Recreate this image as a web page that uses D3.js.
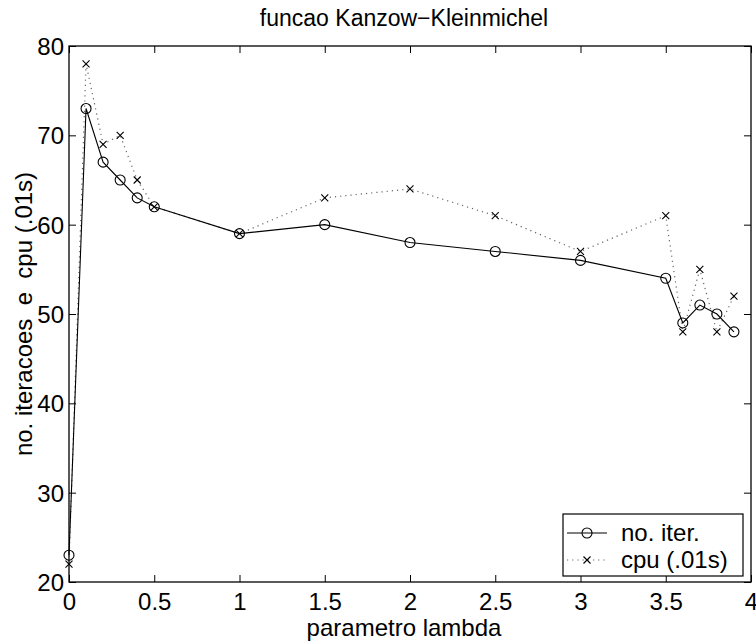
<!DOCTYPE html>
<html><head><meta charset="utf-8">
<script src="https://cdn.jsdelivr.net/npm/d3@7/dist/d3.min.js"></script>
<style>body{margin:0;background:#fff}svg{display:block}text{font-family:"Liberation Sans",Arial,sans-serif;fill:#000}</style>
</head><body><svg id="c" width="756" height="644"></svg>
<script>
const lambda = [0, 0.1, 0.2, 0.3, 0.4, 0.5, 1, 1.5, 2, 2.5, 3, 3.5, 3.6, 3.7, 3.8, 3.9];
const iterations = [23, 73, 67, 65, 63, 62, 59, 60, 58, 57, 56, 54, 49, 51, 50, 48];
const cpu = [22, 78, 69, 70, 65, 62, 59, 63, 64, 61, 57, 61, 48, 55, 48, 52];
const xTicks = [0, 0.5, 1, 1.5, 2, 2.5, 3, 3.5, 4];
const yTicks = [20, 30, 40, 50, 60, 70, 80];
const titleText = "funcao Kanzow\u2212Kleinmichel";
const xLabel = "parametro lambda";
const yLabel = "no. iteracoes  e  cpu (.01s)";
const legendLabels = ["no. iter.", "cpu (.01s)"];

const L = 69, R = 751, T = 46, B = 582;
const FS = 24;
const svg = d3.select("#c");
const x = d3.scaleLinear().domain([0, 4]).range([L, R]);
const y = d3.scaleLinear().domain([20, 80]).range([B, T]);

const g = svg.append("g");
const tl = 7;
function styleAxis(s) {
  s.select(".domain").remove();
  s.selectAll("line").attr("stroke", "#000").attr("stroke-width", 1);
  s.selectAll("text").style("font-size", FS + "px").attr("fill", "#000");
}
const xb = g.append("g").attr("transform", `translate(0,${B})`)
  .call(d3.axisBottom(x).tickValues(xTicks).tickSizeInner(-tl).tickSizeOuter(0).tickFormat(d3.format("")));
styleAxis(xb);
xb.selectAll("text").attr("dy", null).attr("y", 28);
const xt = g.append("g").attr("transform", `translate(0,${T})`)
  .call(d3.axisTop(x).tickValues(xTicks).tickSizeInner(-tl).tickSizeOuter(0).tickFormat(""));
styleAxis(xt);
const yl = g.append("g").attr("transform", `translate(${L},0)`)
  .call(d3.axisLeft(y).tickValues(yTicks).tickSizeInner(-tl).tickSizeOuter(0).tickFormat(d3.format("")));
styleAxis(yl);
yl.selectAll("text").attr("x", -5).attr("dy", "0.36em");
const yr = g.append("g").attr("transform", `translate(${R},0)`)
  .call(d3.axisRight(y).tickValues(yTicks).tickSizeInner(-tl).tickSizeOuter(0).tickFormat(""));
styleAxis(yr);

g.append("rect").attr("x", L).attr("y", T).attr("width", R - L).attr("height", B - T)
  .attr("fill", "none").attr("stroke", "#000").attr("stroke-width", 1.3);

const pts = lambda.map((d, i) => ({x: d, it: iterations[i], cpu: cpu[i]}));
const lineIt = d3.line().x(d => x(d.x)).y(d => y(d.it));
const lineCpu = d3.line().x(d => x(d.x)).y(d => y(d.cpu));

g.append("path").datum(pts).attr("d", lineCpu).attr("fill", "none")
  .attr("stroke", "#666").attr("stroke-width", 1.2).attr("stroke-dasharray", "1.2,4");
g.append("path").datum(pts).attr("d", lineIt).attr("fill", "none")
  .attr("stroke", "#000").attr("stroke-width", 1.1);

const xm = 3.5;
function cross(sel, cx, cy) {
  sel.append("path").attr("d", `M${cx-xm},${cy-xm}L${cx+xm},${cy+xm}M${cx-xm},${cy+xm}L${cx+xm},${cy-xm}`)
    .attr("stroke", "#000").attr("stroke-width", 1.1);
}
pts.forEach(d => {
  g.append("circle").attr("cx", x(d.x)).attr("cy", y(d.it)).attr("r", 5)
    .attr("fill", "none").attr("stroke", "#000").attr("stroke-width", 1.1);
  cross(g, x(d.x), y(d.cpu));
});

svg.append("text").attr("x", (L + R) / 2 - 6).attr("y", 26).attr("text-anchor", "middle")
  .style("font-size", "23px").text(titleText);
svg.append("text").attr("x", (L + R) / 2 - 6).attr("y", 636).attr("text-anchor", "middle")
  .style("font-size", FS + "px").text(xLabel);
svg.append("text").attr("transform", `translate(32,${(T + B) / 2}) rotate(-90)`).attr("text-anchor", "middle")
  .style("font-size", FS + "px").style("white-space", "pre").attr("xml:space", "preserve").text(yLabel);

// legend
const lg = svg.append("g");
const lx = 563, ly = 514, lw = 180, lh = 62;
lg.append("rect").attr("x", lx).attr("y", ly).attr("width", lw).attr("height", lh)
  .attr("fill", "#fff").attr("stroke", "#000").attr("stroke-width", 1.2);
const r1 = 533, r2 = 560;
lg.append("line").attr("x1", 567).attr("x2", 607).attr("y1", r1).attr("y2", r1).attr("stroke", "#000").attr("stroke-width", 1.1);
lg.append("circle").attr("cx", 587).attr("cy", r1).attr("r", 5).attr("fill", "none").attr("stroke", "#000").attr("stroke-width", 1.1);
lg.append("line").attr("x1", 567).attr("x2", 607).attr("y1", r2).attr("y2", r2).attr("stroke", "#666").attr("stroke-width", 1.2).attr("stroke-dasharray", "1.2,4");
cross(lg, 587, r2);
lg.append("text").attr("x", 621).attr("y", r1 + 8).style("font-size", FS + "px").text(legendLabels[0]);
lg.append("text").attr("x", 621).attr("y", r2 + 8).style("font-size", FS + "px").text(legendLabels[1]);
</script></body></html>
